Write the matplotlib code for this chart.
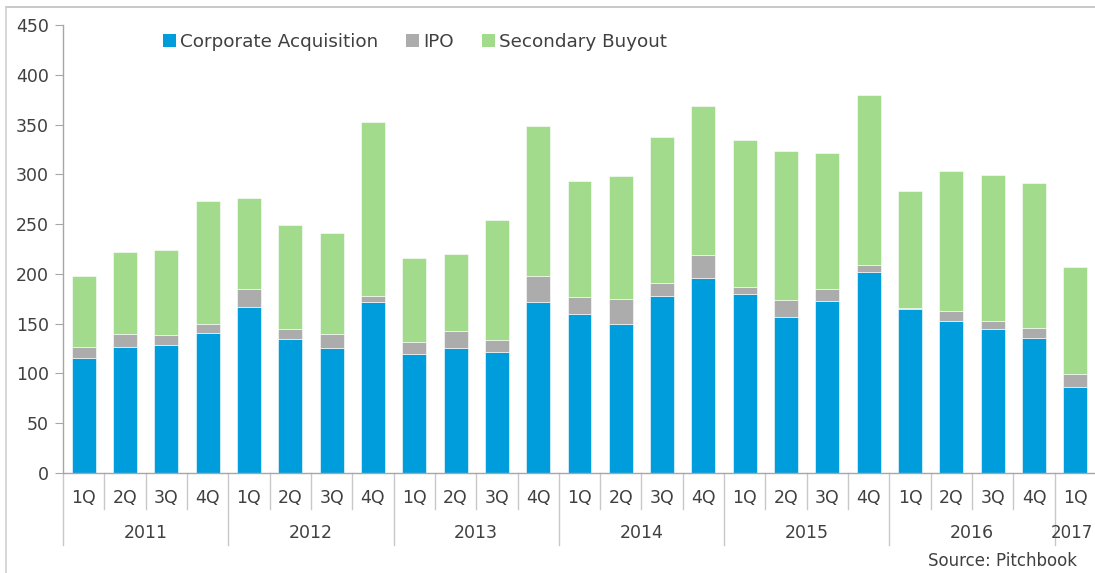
import matplotlib
matplotlib.use("Agg")
import matplotlib.pyplot as plt
from matplotlib.patches import Patch
from matplotlib.lines import Line2D
import numpy as np

quarters = ["1Q", "2Q", "3Q", "4Q"] * 6 + ["1Q"]
years = ["2011", "2012", "2013", "2014", "2015", "2016", "2017"]
year_sizes = [4, 4, 4, 4, 4, 4, 1]

corporate = [116, 127, 129, 141, 167, 135, 126, 172, 120, 126, 122, 172,
             160, 150, 178, 196, 180, 157, 173, 202, 165, 153, 145, 136, 86]
ipo = [11, 13, 10, 9, 18, 10, 14, 6, 12, 17, 12, 26,
       17, 25, 13, 23, 7, 17, 12, 7, 1, 10, 8, 10, 13]
secondary = [71, 82, 85, 123, 91, 104, 101, 175, 84, 77, 120, 151,
             116, 123, 147, 150, 147, 149, 136, 171, 117, 140, 146, 145, 108]

series_names = ["Corporate Acquisition", "IPO", "Secondary Buyout"]
colors = ["#009DDC", "#ABACAB", "#A3DB8C"]
text_color = "#404040"
axis_color = "#A6A6A6"

W, H = 1095, 573
fig = plt.figure(figsize=(W / 100, H / 100), dpi=100)
plt.rcParams['font.family'] = ['DejaVu Sans']

ax_left, ax_right, ax_top, ax_bottom = 63, 1096, 25, 473
ax = fig.add_axes([ax_left / W, 1 - ax_bottom / H, (ax_right - ax_left) / W,
                   (ax_bottom - ax_top) / H])

x = np.arange(len(corporate))
c = np.array(corporate, float)
i = np.array(ipo, float)
s = np.array(secondary, float)
bw = 0.58
ax.bar(x, c, bw, color=colors[0], edgecolor="white", linewidth=0.4)
ax.bar(x, i, bw, bottom=c, color=colors[1], edgecolor="white", linewidth=0.4)
ax.bar(x, s, bw, bottom=c + i, color=colors[2], edgecolor="white", linewidth=0.4)

ax.set_xlim(-0.5, len(x) - 0.5)
ax.set_ylim(0, 450)
ax.set_yticks(np.arange(0, 451, 50))
ax.tick_params(axis='y', direction='out', length=6, color=axis_color,
               labelsize=12.5, labelcolor=text_color, pad=4)
ax.set_xticks([])
for sp in ["top", "right"]:
    ax.spines[sp].set_visible(False)
for sp in ["left", "bottom"]:
    ax.spines[sp].set_color(axis_color)
    ax.spines[sp].set_linewidth(1.0)

trans = ax.get_xaxis_transform()
axh = ax_bottom - ax_top
q_label_y = -(498 - ax_bottom) / axh
y_label_y = -(533 - ax_bottom) / axh
q_sep_y = -(509 - ax_bottom) / axh
y_sep_y = -(545 - ax_bottom) / axh

for k, q in enumerate(quarters):
    ax.text(k, q_label_y, q, transform=trans, ha='center', va='center',
            fontsize=12.5, color=text_color, clip_on=False)

year_bounds = np.cumsum([0] + year_sizes)
for k in range(1, len(x)):
    bound = k - 0.5
    long = k in year_bounds
    ax.add_line(Line2D([bound, bound], [0, y_sep_y if long else q_sep_y],
                       transform=trans, color="#C8C8C8", lw=1.0, clip_on=False))
ax.add_line(Line2D([-0.5, -0.5], [0, y_sep_y], transform=trans,
                   color="#C8C8C8", lw=1.0, clip_on=False))

for n, (yr, start, size) in enumerate(zip(years, year_bounds[:-1], year_sizes)):
    if n == len(years) - 1:
        # last group is a single quarter at the right edge: keep text inside
        fig.text(1093 / W, 1 - 533 / H, yr, ha='right', va='center',
                 fontsize=12, color=text_color)
    else:
        ax.text(start + (size - 1) / 2, y_label_y, yr, transform=trans,
                ha='center', va='center', fontsize=12.5, color=text_color,
                clip_on=False)

handles = [Patch(facecolor=col, edgecolor='none') for col in colors]
fig.legend(handles, series_names, loc='center left',
           bbox_to_anchor=(163 / W, 1 - 42 / H), ncol=3, frameon=False,
           fontsize=13.2, handlelength=0.7, handleheight=0.7,
           handletextpad=0.25, columnspacing=1.5, borderpad=0,
           borderaxespad=0, labelcolor=text_color)

fig.text(1077 / W, 1 - 561 / H, "Source: Pitchbook", ha='right', va='center',
         fontsize=12, color=text_color)

# outer frame lines (top and left)
fig.add_artist(Line2D([6 / W, 1], [1 - 7 / H, 1 - 7 / H], transform=fig.transFigure,
                      color="#BFBFBF", lw=1.2))
fig.add_artist(Line2D([6 / W, 6 / W], [0, 1 - 7 / H], transform=fig.transFigure,
                      color="#D0D0D0", lw=1.2))

fig.savefig("out.png", dpi=100)
